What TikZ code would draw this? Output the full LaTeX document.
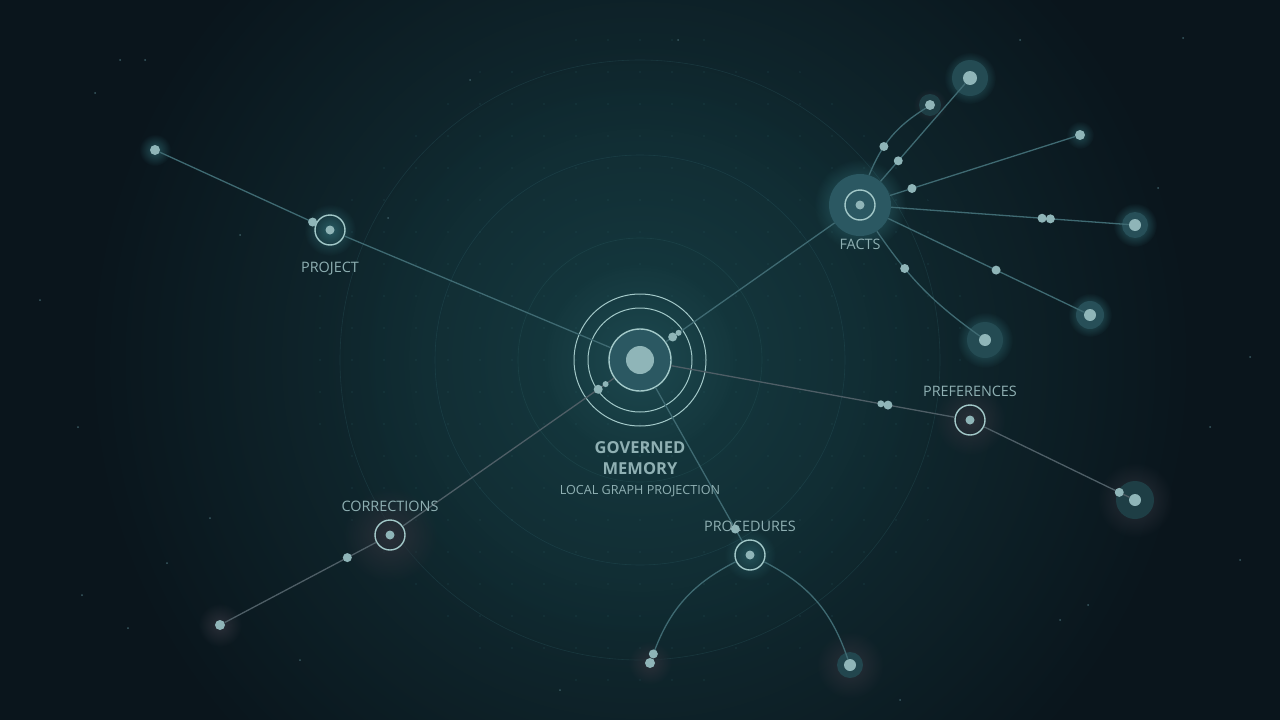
\documentclass[tikz,border=0pt]{standalone}
\usepackage{fontspec}
\setmainfont{Open Sans}
\usetikzlibrary{fadings}
\definecolor{bg}{HTML}{0A151C}
\definecolor{bgglow}{HTML}{15393F}
\definecolor{ringc}{HTML}{A3C9C9}
\definecolor{dotc}{HTML}{8FB5B8}
\definecolor{txtc}{HTML}{8FB0B3}
\definecolor{edgec}{HTML}{3F6A72}
\definecolor{edgeg}{HTML}{4E5E66}
\definecolor{discc}{HTML}{2B5862}
\definecolor{halot}{HTML}{2F6A72}
\definecolor{halod}{HTML}{2A2F38}
\definecolor{gridc}{HTML}{2A5A60}
\definecolor{starc}{HTML}{3A5A62}
\tikzfading[name=fuzzy, inner color=transparent!0, outer color=transparent!100]
\begin{document}
\begin{tikzpicture}[x=1pt,y=-1pt,
  edge/.style={draw=edgec, line width=1.3pt},
  edgegray/.style={draw=edgeg, line width=1.3pt},
  hub/.style={circle, draw=ringc, line width=1.4pt, minimum size=30pt, inner sep=0pt},
  leaf/.style={circle, fill=dotc, inner sep=0pt, minimum size=#1},
  particle/.style={circle, fill=dotc, inner sep=0pt, minimum size=9pt},
  lbl/.style={text=txtc, font=\fontsize{14.4}{16}\selectfont, inner sep=0pt},
  halo/.style={fill=#1, path fading=fuzzy},
  ring/.style={draw=ringc, line width=1pt},
  faintring/.style={draw=gridc, line width=0.6pt, opacity=0.35}]
\useasboundingbox (0,0) rectangle (1280,720);
% background
\fill[bg] (0,0) rectangle (1280,720);
\fill[halo=bgglow] (640,360) circle (560);
\fill[halo=bgglow, opacity=0.7] (640,360) circle (320);
% faint rings
\draw[faintring] (640,360) circle (122);
\draw[faintring] (640,360) circle (205);
\draw[faintring] (640,360) circle (300);
% grid dots
\begin{scope}
\clip (640,360) circle (330);
\foreach \i in {-10,...,10}{
  \foreach \j in {-10,...,10}{
    \fill[gridc, opacity=0.35] (640+32*\i,360+32*\j) circle (0.8);
  }
}
\end{scope}
% stars
\foreach \p in {(120,60),(95,93),(145,60),(240,235),(388,218),(1250,357),(1210,427),
  (1088,605),(1060,620),(82,595),(78,427),(210,518),(167,563),(128,628),(1183,38),
  (678,40),(1158,188),(470,80),(1020,40),(40,300),(1240,560),(560,690),(900,700),(300,660)}
  \fill[starc] \p circle (1);
% halos
\fill[halo=halot, opacity=0.35] (640,360) circle (100);
\fill[halo=halot] (860,205) circle (46);
\fill[halo=halot, opacity=0.8] (330,230) circle (26);
\fill[halo=halot, opacity=0.7] (155,150) circle (16);
\fill[halo=halot] (970,78) circle (26);
\fill[halo=halod] (930,105) circle (17);
\fill[halo=halot, opacity=0.6] (1080,135) circle (14);
\fill[halo=halot] (1135,225) circle (22);
\fill[halo=halot] (1090,315) circle (22);
\fill[halo=halot] (985,340) circle (28);
\fill[halo=halod] (970,420) circle (36);
\fill[halo=halod] (1135,500) circle (38);
\fill[halo=halod] (390,535) circle (48);
\fill[halo=halod] (220,625) circle (22);
\fill[halo=halot, opacity=0.6] (750,555) circle (26);
\fill[halo=halod] (650,663) circle (22);
\fill[halo=halod] (850,665) circle (34);
% leaf discs
\fill[discc] (860,205) circle (31);
\fill[discc!85!black] (970,78) circle (18);
\fill[discc!70!black] (930,105) circle (11);
\fill[discc!90!black] (1135,225) circle (13);
\fill[discc!90!black] (1090,315) circle (14);
\fill[discc!85!black] (985,340) circle (18);
\fill[discc!70!black] (1135,500) circle (19);
\fill[discc!80!black] (850,665) circle (13);
% central rings
\draw[ring] (640,360) circle (52);
\draw[ring] (640,360) circle (66);
% nodes
\node[circle, fill=discc, draw=ringc, line width=1.4pt, minimum size=62pt, inner sep=0pt] (c) at (640,360) {};
\fill[dotc] (640,360) circle (14);
\node[hub] (proj) at (330,230) {};
\node[hub] (facts) at (860,205) {};
\node[hub] (pref) at (970,420) {};
\node[hub] (corr) at (390,535) {};
\node[hub] (proc) at (750,555) {};
\foreach \n in {proj,facts,pref,corr,proc} \fill[dotc] (\n.center) circle (4.5);
\node[circle, minimum size=62pt, inner sep=0pt] (factsb) at (860,205) {};
\node[leaf=10pt] (lp) at (155,150) {};
\node[leaf=14pt] (f1) at (970,78) {};
\node[leaf=10pt] (f2) at (930,105) {};
\node[leaf=10pt] (f3) at (1080,135) {};
\node[leaf=12pt] (f4) at (1135,225) {};
\node[leaf=12pt] (f5) at (1090,315) {};
\node[leaf=12pt] (f6) at (985,340) {};
\node[leaf=12pt] (pl) at (1135,500) {};
\node[leaf=10pt] (cl) at (220,625) {};
\node[leaf=10pt] (pr1) at (650,663) {};
\node[leaf=12pt] (pr2) at (850,665) {};
% edges
\draw[edge] (c) -- (proj);
\draw[edge] (proj) -- (lp) node[pos=0.02, particle]{};
\draw[edge] (c) -- (factsb) node[pos=0.04, particle]{} node[pos=0.075, particle, minimum size=6pt]{};
\draw[edgegray] (c) -- (corr) node[pos=0.075, particle]{} node[pos=0.04, particle, minimum size=6pt]{};
\draw[edgegray] (c) -- (pref) node[pos=0.74, particle, minimum size=7pt]{} node[pos=0.765, particle]{};
\draw[edge] (c) -- (proc) node[pos=0.92, particle]{};
\draw[edge] (factsb) -- (f1) node[pos=0.21, particle]{};
\draw[edge] (factsb) to[bend left=18] node[pos=0.35, particle]{} (f2);
\draw[edge] (factsb) -- (f3) node[pos=0.12, particle]{};
\draw[edge] (factsb) -- (f4) node[pos=0.635, particle]{} node[pos=0.67, particle]{};
\draw[edge] (factsb) -- (f5) node[pos=0.55, particle]{};
\draw[edge] (factsb) to[bend right=10] node[pos=0.3, particle]{} (f6);
\draw[edgegray] (pref) -- (pl) node[pos=0.93, particle]{};
\draw[edgegray] (corr) -- (cl) node[pos=0.19, particle]{};
\draw[edge] (proc) to[bend right=22] node[pos=0.97, particle]{} (pr1);
\draw[edge] (proc) to[bend left=22] (pr2);
% labels
\node[lbl] (tproj) at (330,269) {PROJECT};
\node[lbl] (tfacts) at (860,244) {FACTS};
\node[lbl] (tpref) at (970,391) {PREFERENCES};
\node[lbl] (tcorr) at (390,506) {CORRECTIONS};
\node[lbl] (tproc) at (750,526) {PROCEDURES};
\node[text=txtc, font=\fontsize{16.5}{21}\selectfont\bfseries, align=center, inner sep=0pt] (tgov) at (640,458) {GOVERNED\\MEMORY};
\node[text=txtc, font=\fontsize{12.6}{15}\selectfont, inner sep=0pt] (tloc) at (640,491) {LOCAL GRAPH PROJECTION};
\end{tikzpicture}
\end{document}
